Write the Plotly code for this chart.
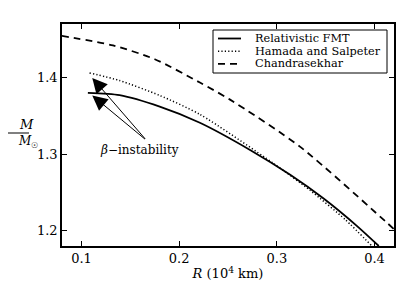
import plotly.graph_objects as go

# Data
fmt_R = [0.1065, 0.1390, 0.1801, 0.2212, 0.2726, 0.3137, 0.3479, 0.3822, 0.4044]
fmt_M = [1.3800, 1.3770, 1.3620, 1.3410, 1.3055, 1.2730, 1.2420, 1.2060, 1.1800]

hs_R = [0.1082, 0.1390, 0.1801, 0.2212, 0.2965, 0.3343, 0.3702, 0.3977]
hs_M = [1.4061, 1.3961, 1.3766, 1.3519, 1.2879, 1.2525, 1.2143, 1.1796]

ch_R = [0.0795, 0.1322, 0.1750, 0.2212, 0.2521, 0.3240, 0.4131, 0.4206]
ch_M = [1.4545, 1.4420, 1.4240, 1.3935, 1.3712, 1.3095, 1.2100, 1.2013]

x_ticks = [0.1, 0.2, 0.3, 0.4]
y_ticks = [1.2, 1.3, 1.4]

series_names = ["Relativistic FMT", "Hamada and Salpeter", "Chandrasekhar"]

# beta-instability annotation: arrow tail and tips
label_pos = (0.1665, 1.318)
arrow_tips = [(0.111, 1.3996), (0.111, 1.3766)]

FONT = "DejaVu Serif, Liberation Serif, serif"

# page body has an 8px margin: work in reference pixel coords, shift by OFF
OFF = 8
W, H = 415 - OFF, 305 - OFF
PL, PR, PT, PB = 62, 394, 24, 246          # plot area in reference pixels
l, t = PL - OFF, PT - OFF
r, b = W - (PR - OFF), H - (PB - OFF)
pw, ph = W - l - r, H - t - b


def px2paper(px, py):
    return (px - PL) / pw, 1 - (py - PT) / ph


styles = [dict(color="black", width=1.8),
          dict(color="black", width=1.5, dash="1.2px,2.2px"),
          dict(color="black", width=1.8, dash="7px,5px")]

fig = go.Figure()
for name, xs, ys, st in zip(series_names, [fmt_R, hs_R, ch_R], [fmt_M, hs_M, ch_M], styles):
    fig.add_trace(go.Scatter(x=xs, y=ys, mode="lines", name=name,
                             line=dict(shape="spline", smoothing=0.7, **st), showlegend=False))

for tx, ty in arrow_tips:
    fig.add_annotation(x=tx, y=ty, ax=label_pos[0], ay=label_pos[1],
                       xref="x", yref="y", axref="x", ayref="y",
                       showarrow=True, arrowhead=2, arrowsize=3, arrowwidth=1,
                       arrowcolor="black", text="")

fig.add_annotation(x=0.1596, y=1.305, xref="x", yref="y", showarrow=False,
                   text="<i>β</i>−instability", font=dict(family=FONT, size=12, color="black"))

# manual legend (box, sample lines, labels)
bx0, by0 = px2paper(213, 30)
bx1, by1 = px2paper(387, 73)
fig.add_shape(type="rect", xref="paper", yref="paper", x0=bx0, x1=bx1, y0=by1, y1=by0,
              line=dict(color="black", width=1), fillcolor="white", layer="above")
for i, (name, st) in enumerate(zip(series_names, styles)):
    row_y = 38.5 + 12.7 * i
    lx0, ly = px2paper(218, row_y)
    lx1, _ = px2paper(241, row_y)
    fig.add_shape(type="line", xref="paper", yref="paper", x0=lx0, x1=lx1, y0=ly, y1=ly,
                  line=st, layer="above")
    tx, _ = px2paper(254, row_y)
    fig.add_annotation(x=tx, y=ly, xref="paper", yref="paper", xanchor="left", yanchor="middle",
                       showarrow=False, text=name, height=11, borderpad=0,
                       font=dict(family=FONT, size=11.3, color="black"))

# y-axis fraction label M / M_sun
mx, my = px2paper(17, 124)
fig.add_annotation(x=mx, y=my, xref="paper", yref="paper", showarrow=False,
                   text="<i>M</i>", font=dict(family=FONT, size=13, color="black"))
mx, my = px2paper(16, 142)
fig.add_annotation(x=mx, y=my, xref="paper", yref="paper", showarrow=False,
                   text="<i>M</i><sub>☉</sub>", font=dict(family=FONT, size=12, color="black"))
fx0, fy = px2paper(6, 133)
fx1, _ = px2paper(29, 133)
fig.add_shape(type="line", xref="paper", yref="paper", x0=fx0, x1=fx1, y0=fy, y1=fy,
              line=dict(color="black", width=1))

fig.update_layout(
    width=W, height=H,
    margin=dict(l=l, r=r, t=t, b=b, autoexpand=False),
    paper_bgcolor="white", plot_bgcolor="white",
    font=dict(family=FONT, size=13, color="black"),
    showlegend=False,
    xaxis=dict(range=[0.08, 0.42], tickvals=x_ticks, ticktext=[str(v) for v in x_ticks],
               ticks="inside", ticklen=5, tickcolor="black", mirror="ticks",
               showline=True, linecolor="black", linewidth=1.5, showgrid=False, zeroline=False,
               tickfont=dict(family=FONT, size=13),
               title=dict(text="<i>R</i> (10<sup>4</sup> km)", standoff=4,
                          font=dict(family=FONT, size=13))),
    yaxis=dict(range=[1.18, 1.47], tickvals=y_ticks, ticktext=[str(v) for v in y_ticks],
               ticks="inside", ticklen=5, tickcolor="black", mirror="ticks",
               showline=True, linecolor="black", linewidth=1.5, showgrid=False, zeroline=False,
               tickfont=dict(family=FONT, size=13)),
)

fig.write_html("out.html")
